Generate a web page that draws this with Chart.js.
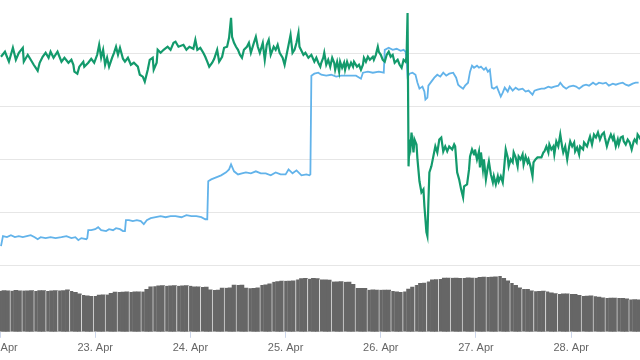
<!DOCTYPE html>
<html>
<head>
<meta charset="utf-8">
<script src="https://cdn.jsdelivr.net/npm/chart.js@4/dist/chart.umd.min.js"></script>
<style>
html,body{margin:0;padding:0;background:#fff;}
#wrap{width:640px;height:360px;}
</style>
</head>
<body>
<div id="wrap"><canvas id="c" width="640" height="360"></canvas></div>
<script>
// ---- DATA (hours since 22 Apr 00:00) ----
const dayLabels = ['22. Apr','23. Apr','24. Apr','25. Apr','26. Apr','27. Apr','28. Apr'];

const greenHours = [0.25,1.25,2.25,3.25,4,4.75,5.75,6,7,7.75,8.5,9.5,10,10.75,11.5,12.25,12.75,13.5,14.5,15.5,16.25,17.25,18,18.5,18.75,19.5,20,21,21.25,22.25,23,23.75,
24.5,25,25.5,26,26.5,27,27.5,28.25,28.75,29.25,29.75,30.25,31,31.5,32.25,33,33.75,34.75,35.25,36,36.5,37.25,37.75,38.5,38.75,39.5,39.75,
40.5,41.25,42.25,43,43.75,44.25,45,46.25,47,47.75,48.75,49.25,49.75,50.5,51.25,51.75,52.25,52.75,53.5,54,54.75,55.25,56,56.5,57.25,57.75,58.25,58.5,59,59.5,
60,60.5,61,61.5,62.25,62.75,63.25,64,64.5,65,65.5,66.25,66.75,67.25,67.75,68.25,69,69.5,70,70.5,71.25,71.75,72.25,72.75,73.25,73.75,74.25,74.75,75.25,75.5,
76.5,77,77.75,78.5,79.25,79.75,80.25,80.75,81,81.5,81.75,82.25,82.75,83.25,83.75,84.25,84.5,85,85.5,85.75,86.25,86.75,87,87.5,88,88.5,89,89.25,
90,90.5,91,91.5,91.75,92.25,92.75,93.25,94,94.25,94.75,95.25,95.5,96,96.5,97,97.5,98,98.5,99,99.5,100.25,100.75,101.25,101.75,102.25,102.5,
102.75,103,103.25,103.5,103.75,104.25,104.5,105,105.25,105.75,106.25,106.75,107,107.5,107.75,108,108.25,108.75,109.25,109.75,110.25,110.75,111.25,111.75,
112.25,112.75,113.25,114,114.5,114.75,115.25,115.75,116.25,116.75,117,117.75,118.25,118.5,119,119.5,119.75,120.25,120.75,121,121.25,121.75,122,122.5,
123,123.25,123.75,124.25,124.5,125,125.5,125.75,126.25,126.75,127,127.5,128,128.25,128.75,129.25,129.5,130,130.5,130.75,131.25,131.75,132,132.5,
133,133.25,133.75,134.25,134.5,135,135.5,136.5,137,137.25,137.75,138.25,138.5,139,139.5,139.75,140.25,140.75,141.25,141.75,142,142.5,143,143.5,
143.75,144.25,144.75,145,145.5,146,146.25,147,147.25,148,148.5,148.75,149.25,149.75,150.25,150.75,151.25,151.75,152.25,152.5,153,153.5,154,154.5,
154.75,155.25,155.75,156,156.5,157,157.25,157.75,158.25,158.75,159.25,159.75,160,160.5,160.75,161.25,161.5];
const greenValues = [196.5,201.2,191.8,204.9,193.6,200.2,204.9,191.8,198.3,193.6,188.9,183.3,190.8,196.5,200.2,195.5,201.2,195.5,201.2,191.8,195.5,190.8,193.6,188.9,182.4,180.5,187.1,191.8,187.1,190.8,194.6,190.8,
198.3,207.7,195.5,203.0,188.9,195.5,187.1,195.5,200.2,205.9,198.3,204.9,194.6,191.8,195.5,188.9,190.8,187.1,179.5,177.7,173.0,184.2,193.6,195.5,184.2,190.8,203.0,
200.2,203.0,205.9,203.0,209.6,210.6,205.9,207.7,203.0,205.9,204.0,212.4,203.0,204.9,200.2,196.5,191.8,187.1,190.8,194.6,203.0,191.8,196.5,204.9,205.9,214.3,233.1,215.3,209.6,205.9,
203.0,198.3,195.5,203.0,205.9,209.6,200.2,209.6,215.3,205.9,200.2,209.6,193.6,207.7,212.4,198.3,205.9,203.0,207.7,200.2,195.5,188.9,198.3,207.7,217.1,200.2,203.0,209.6,219.0,205.9,
198.3,200.2,195.5,198.3,191.8,195.5,190.8,187.1,190.8,195.5,200.2,188.9,193.6,187.1,195.5,190.8,184.2,191.8,182.4,191.8,186.1,190.8,184.2,191.8,186.1,190.8,187.1,191.8,
187.1,188.9,184.2,188.9,195.5,191.8,196.5,193.6,196.5,193.6,198.3,205.9,201.2,198.3,193.6,191.8,198.3,201.2,196.5,198.3,190.8,193.6,188.9,186.1,193.6,191.8,196.5,
237.8,93.1,118.4,111.9,125.0,106.2,118.4,113.7,99.6,79.0,68.6,71.4,55.5,31.0,27.3,59.2,87.4,93.1,102.5,111.9,106.2,118.4,120.3,107.2,
111.9,107.2,111.9,109.0,113.7,111.9,87.4,80.8,71.4,63.9,74.3,76.1,90.2,102.5,109.0,104.3,109.0,99.6,107.2,92.1,106.2,90.2,99.6,80.8,
93.1,97.8,85.5,78.0,83.7,76.1,83.7,79.0,83.7,78.0,87.4,109.0,101.5,93.1,99.6,96.8,106.2,101.5,93.1,102.5,99.6,104.3,94.9,102.5,
96.8,99.6,93.1,83.7,96.8,99.6,101.5,101.5,106.2,107.2,111.9,106.2,113.7,109.0,111.9,104.3,116.6,111.9,123.1,110.9,106.2,111.9,99.6,111.9,
116.6,111.9,115.6,107.2,110.9,104.3,111.9,109.0,115.6,111.9,118.4,121.3,113.7,123.1,120.3,125.0,118.4,123.1,125.0,120.3,111.9,118.4,123.1,118.4,
121.3,111.9,118.4,113.7,120.3,121.3,116.6,113.7,118.4,115.6,109.0,116.6,118.4,115.6,123.1,120.3,118.4];

const blueHours = [0.25,0.75,1.75,2.75,3.75,4.75,5.75,6.75,7.75,8.75,9.5,10.25,11.5,12.75,14,15.5,16.75,18,19,19.75,20.5,21.75,22,
22.25,23,24,24.75,25.5,26.75,27.5,28.5,29.25,30.25,31,31.5,31.75,32.5,33.5,34.5,35.5,36.25,37,38,39.25,40.5,41.75,43,44.25,45.75,47,48.25,49.5,50.75,51.75,52.25,
52.5,53.25,54.5,55.75,57,57.75,58.25,59,60,61,62,63.25,64.5,65.75,67,68.25,69.5,70.75,72,72.75,73.75,74.75,76,77.25,78,78.25,
78.5,79.25,80.25,81,82.25,83.5,84.75,86,88.5,89.75,91,91.5,92.75,94,95.5,96.75,97,98,99,100,101,101.75,102.25,102.5,
102.75,103.25,104,104.75,105.25,105.75,106.5,107,107.25,107.75,108,108.75,109.5,110.25,111,111.75,112.5,113.25,114.25,115,115.5,116,116.75,117.25,118,
118.5,119,119.5,120.25,120.75,121.25,122,122.5,123,123.5,124,124.5,125.25,125.75,126.25,126.75,127.25,128,128.5,129.25,130,130.75,131.75,132.5,133.25,
134.25,134.75,135.5,136.5,137.25,138.25,139,139.75,140.75,141.25,142,142.75,143.5,144.5,145.25,146,147,147.75,148.5,149.5,150.25,151,152,152.75,
153.5,154.5,155.25,156,157,157.75,158.5,159.5,160.25,161];
const blueValues = [17.9,27.3,26.3,28.2,26.3,27.3,26.3,27.3,28.2,26.3,24.4,26.3,25.4,26.3,25.4,26.3,27.3,25.4,26.3,23.5,25.4,24.4,25.4,
32.9,32.9,33.8,35.7,32.9,32.0,33.8,32.9,34.8,33.8,32.0,32.0,42.3,42.3,41.4,42.3,41.4,38.5,42.3,44.2,45.1,46.1,45.1,46.1,46.1,45.1,47.0,46.1,46.1,45.1,43.2,43.2,
79.0,80.8,82.7,84.6,87.4,90.2,94.9,88.4,85.5,86.5,87.4,86.5,88.4,86.5,86.5,84.6,87.4,85.5,85.5,90.2,86.5,89.3,84.6,85.5,84.6,85.5,
178.6,180.5,181.4,179.5,178.6,179.5,177.7,178.6,178.6,178.6,175.8,181.4,182.4,181.4,182.4,181.4,203.0,204.9,203.0,204.0,202.1,203.0,201.2,193.6,
177.7,180.5,181.4,179.5,172.0,166.4,168.3,163.6,156.0,157.9,169.2,173.0,176.7,179.5,177.7,181.4,178.6,180.5,181.4,176.7,170.1,168.3,166.4,169.2,172.0,
182.4,188.0,186.1,188.0,186.1,187.1,184.2,186.1,182.4,184.2,167.3,166.4,168.3,163.6,158.9,162.6,167.3,163.6,168.3,164.5,167.3,165.4,166.4,163.6,164.5,
160.7,164.5,165.4,166.4,166.4,168.3,167.3,168.3,169.2,172.0,168.3,166.4,168.3,169.2,168.3,166.4,169.2,170.1,169.2,172.0,170.1,172.0,171.1,172.0,
169.2,171.1,170.1,171.1,172.0,170.1,169.2,171.1,172.0,172.0];

// hourly volume, one bar per hour from 22 Apr 00:00
const volumeValues = [61.5,61.8,61.2,61.6,62.0,61.4,61.7,61.5,61.9,61.3,
61.6,61.8,61.2,61.5,61.7,62.0,61.6,62.8,61.0,59.2,
57.0,55.0,53.8,53.3,53.5,55.0,55.4,55.8,57.5,59.5,
59.8,59.6,59.9,59.7,60.0,59.8,60.4,63.8,67.5,68.4,
68.8,69.1,69.0,68.7,69.2,69.0,68.9,69.1,68.8,67.5,
67.2,67.0,66.8,63.0,62.7,62.5,65.5,65.8,66.0,69.8,
70.2,70.0,65.4,65.2,65.0,66.0,70.0,70.4,72.0,75.0,
75.2,76.0,76.3,76.0,76.4,78.5,79.8,80.0,79.6,80.1,
79.8,78.5,78.0,77.5,75.2,75.0,75.3,75.0,74.6,71.0,
65.5,65.2,65.0,63.0,62.7,62.5,62.8,62.6,62.4,61.0,
60.0,59.3,60.5,64.0,67.0,70.0,72.5,73.0,75.5,78.0,
78.3,79.0,80.5,80.3,80.8,80.5,80.2,80.6,80.7,80.4,
80.8,81.5,82.0,82.2,81.8,82.3,83.5,80.0,76.5,73.0,
69.5,66.0,64.2,63.5,61.5,60.8,60.6,60.9,60.5,58.5,
57.2,56.8,57.0,56.7,56.5,56.0,54.5,53.8,53.6,53.9,
53.4,52.0,51.0,50.8,50.6,50.5,50.7,50.3,49.5,48.5,
48.2,48.0];

const gridValues = [0,50,100,150,200];

// ---- CHART ----
const pts = (xs, ys) => xs.map((x, i) => ({x: x, y: ys[i]}));

new Chart(document.getElementById('c'), {
  data: {
    datasets: [
      {type:'line', label:'A', data: pts(greenHours, greenValues), yAxisID:'y',
       borderColor:'#139a6c', borderWidth:2.2, pointRadius:0, tension:0, order:0},
      {type:'line', label:'B', data: pts(blueHours, blueValues), yAxisID:'y',
       borderColor:'#62b3ea', borderWidth:1.8, pointRadius:0, tension:0, order:1},
      {type:'bar', label:'V', data: volumeValues.map((v, i) => ({x: i, y: v})), yAxisID:'yv',
       backgroundColor:'#666666', borderColor:'#d8d8d8',
       borderWidth: ctx => (ctx.dataIndex % 3 === 0 ? {left:1, top:0, right:0, bottom:0} : 0),
       borderSkipped:false, barPercentage:1, categoryPercentage:1, order:2}
    ]
  },
  options: {
    responsive:false,
    animation:false,
    devicePixelRatio:1,
    layout:{padding:{left:0,right:0,top:0,bottom:1}},
    plugins:{legend:{display:false}, tooltip:{enabled:false}},
    scales:{
      x:{type:'linear', min:0, max:161.35, offset:false, bounds:'ticks',
         afterBuildTicks: s => { s.ticks = dayLabels.map((_, i) => ({value: i*24})); },
         afterFit: s => { s.paddingLeft = 0; s.paddingRight = 0; },
         grid:{offset:false, drawOnChartArea:false, drawTicks:true, tickLength:6, tickColor:'#ccd6eb'},
         border:{display:false},
         ticks:{autoSkip:false, maxRotation:0, padding:4, color:'#666666',
                font:{family:'"Liberation Sans", Arial, sans-serif', size:11},
                callback: (v) => dayLabels[Math.round(v/24)]}
      },
      y:{type:'linear', position:'left', min:-62.97, max:250,
         afterBuildTicks: s => { s.ticks = gridValues.map(v => ({value:v})); },
         grid:{color:'#e6e6e6', drawTicks:false, lineWidth:1},
         border:{display:false},
         ticks:{display:false}
      },
      yv:{type:'linear', position:'right', display:false, min:0, max:497}
    }
  }
});
</script>
</body>
</html>
